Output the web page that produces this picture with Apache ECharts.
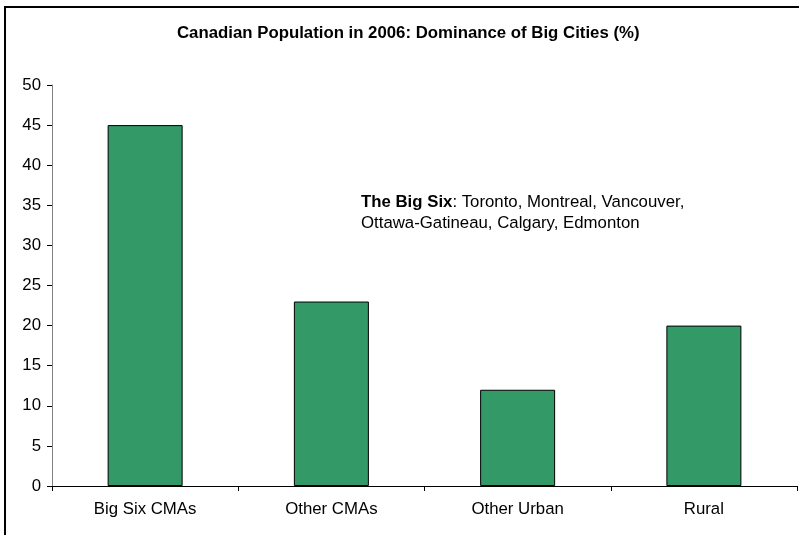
<!DOCTYPE html>
<html><head><meta charset="utf-8">
<script src="https://cdn.jsdelivr.net/npm/echarts@6/dist/echarts.min.js"></script>
<style>html,body{margin:0;padding:0;background:#fff}#c{width:799px;height:535px}</style>
</head><body><div id="c"></div>
<script>
const categories = ['Big Six CMAs', 'Other CMAs', 'Other Urban', 'Rural'];
const values = [45, 23, 12, 20];
const yTicks = [0, 5, 10, 15, 20, 25, 30, 35, 40, 45, 50];

const FS = 16.8;
const FF = 'Liberation Sans, Arial';
const chart = echarts.init(document.getElementById('c'));
chart.setOption({
  animation: false,
  backgroundColor: '#fff',
  title: {
    text: 'Canadian Population in 2006: Dominance of Big Cities (%)',
    left: 177, top: 25, padding: 0,
    textStyle: { fontFamily: FF, fontSize: FS, fontWeight: 'bold', color: '#000' }
  },
  grid: { left: 52, right: 2, top: 85, bottom: 49, containLabel: false },
  xAxis: {
    type: 'category', data: categories,
    axisLine: { lineStyle: { color: '#000', width: 1 } },
    axisTick: { show: true, length: 5, inside: false, alignWithLabel: false, lineStyle: { color: '#000' } },
    axisLabel: { color: '#000', fontFamily: FF, fontSize: FS, margin: 15 },
    splitLine: { show: false }
  },
  yAxis: {
    type: 'value', min: yTicks[0], max: yTicks[yTicks.length - 1], interval: 5,
    axisLine: { show: true, lineStyle: { color: '#808080', width: 1 } },
    axisTick: { show: true, length: 5, lineStyle: { color: '#000' } },
    axisLabel: { color: '#000', fontFamily: FF, fontSize: FS, margin: 11 },
    splitLine: { show: false }
  },
  series: [{
    type: 'bar', data: values, barWidth: 75,
    itemStyle: { color: '#339966', borderColor: '#000', borderWidth: 1 }
  }],
  graphic: [
    { type: 'rect', shape: { x: 5, y: 7, width: 810, height: 540 }, style: { fill: null, stroke: '#000', lineWidth: 2 }, silent: true },
    {
      type: 'text', left: 361, top: 192,
      style: {
        text: '{b|The Big Six}: Toronto, Montreal, Vancouver,\nOttawa-Gatineau, Calgary, Edmonton',
        fontFamily: FF, fontSize: FS, lineHeight: 21, fill: '#000',
        rich: { b: { fontWeight: 'bold', fontFamily: FF, fontSize: FS, lineHeight: 21 } }
      }
    }
  ]
});
</script></body></html>
